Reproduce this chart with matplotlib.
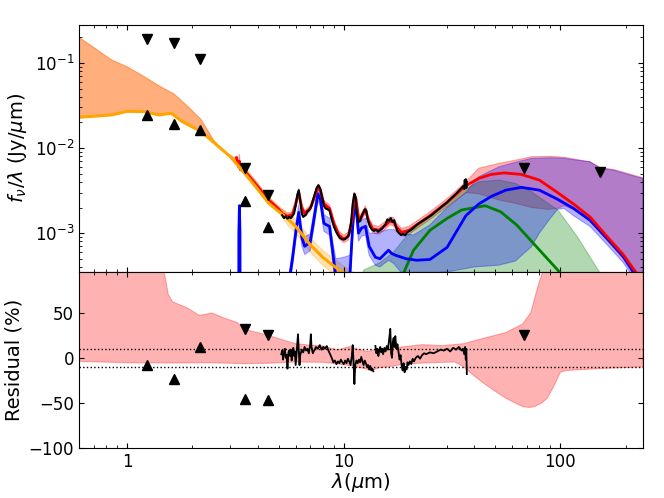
import numpy as np
import matplotlib
matplotlib.use('Agg')
import matplotlib.pyplot as plt

# ---- data (fluxes in 1e-3 Jy/um) ----
# photometry: lower (^) and upper (v) points
phot_up_wave = [1.235, 1.65, 2.16, 3.5, 4.45]
phot_up_flux = [24.5, 19.0, 16.3, 2.4, 1.19]
phot_dn_wave = [1.235, 1.65, 2.16, 3.5, 4.45, 68.0, 152.0]
phot_dn_flux = [190.0, 173.0, 111.0, 5.8, 2.8, 5.9, 5.26]

# stellar model (orange)
star_wave = [0.6, 0.85, 1.0, 1.2, 1.4, 1.6, 1.8, 2.2, 2.6, 3.0, 3.5, 4.0, 4.5,
             5.0, 5.5, 6.0, 7.0, 8.0, 9.0, 10.0, 11.0, 12.0]
star_flux = [23.0, 24.5, 27.0, 26.8, 24.5, 25.6, 20.4, 15.6, 10.8, 7.9, 5.0, 3.3,
             2.25, 1.8, 1.48, 1.2, 0.73, 0.52, 0.41, 0.34, 0.29, 0.25]
star_hi_wave = [0.6, 0.85, 1.0, 1.2, 1.4, 1.65, 1.9, 2.2, 2.5, 2.8, 3.2, 3.5, 4.0,
                4.5, 5.0, 5.5, 6.0, 7.0, 8.0, 9.0, 10.0, 11.0, 12.0]
star_hi = [200.0, 108.0, 90.0, 69.0, 54.0, 43.0, 31.0, 21.5, 12.5, 9.0, 7.4, 5.8,
           3.85, 2.65, 2.05, 1.75, 1.45, 0.88, 0.63, 0.5, 0.41, 0.35, 0.3]
star_lo_wave = [5.0, 5.5, 6.0, 7.0, 8.0, 9.0, 10.0, 11.0, 12.0]
star_lo = [1.8, 1.25, 1.0, 0.6, 0.42, 0.33, 0.27, 0.23, 0.2]

# total model (red)
tot_wave = [3.2, 3.27, 3.30, 3.33, 3.5, 4.0, 4.5, 5.0, 5.2, 5.5, 5.8, 6.0, 6.2,
            6.4, 6.6, 7.0, 7.3, 7.6, 7.8, 8.1, 8.6, 9.0, 9.5, 10.0, 10.5, 10.9,
            11.2, 11.4, 11.7, 12.0, 12.6, 13.0, 13.6, 14.5, 15.5, 16.3, 17.0,
            17.5, 18.5, 20.0, 22.0, 25.0, 30.0, 36.6, 42.0, 48.0, 55.0, 66.0,
            80.0, 97.0, 115.0, 137.0, 165.0, 195.0, 230.0]
tot_flux = [7.7, 6.0, 7.0, 5.6, 5.3, 3.55, 2.45, 1.92, 1.70, 1.58, 1.65, 2.2,
            3.0, 2.0, 1.7, 1.95, 2.6, 3.5, 3.2, 2.2, 1.95, 1.3, 0.95, 0.85, 0.92,
            1.4, 2.8, 2.5, 1.5, 1.5, 1.9, 1.4, 1.12, 1.08, 1.22, 1.38, 1.35, 1.18,
            1.02, 1.08, 1.28, 1.6, 2.3, 3.6, 4.4, 4.9, 5.1, 4.9, 4.2, 3.0, 2.2,
            1.55, 0.9, 0.56, 0.31]
tot_hi_wave = [0.6, 0.85, 1.0, 1.2, 1.4, 1.65, 1.9, 2.2, 2.5, 2.8, 3.2, 3.27,
               3.30, 3.33, 3.5, 4.0, 4.5, 5.0, 5.5, 5.8, 6.0, 6.2, 6.4, 6.6, 7.0,
               7.3, 7.6, 7.8, 8.1, 8.6, 9.0, 9.5, 10.0, 10.5, 10.9, 11.2, 11.4,
               11.7, 12.0, 12.6, 13.0, 13.6, 14.5, 15.5, 16.3, 17.0, 17.5, 18.5,
               20.0, 22.0, 25.0, 30.0, 36.6, 42.0, 52.0, 62.0, 73.5, 90.0, 104.0,
               120.0, 137.0, 153.0, 176.0, 224.0, 240.0]
tot_hi = [200.0, 108.0, 90.0, 69.0, 54.0, 43.0, 31.0, 21.5, 12.5, 9.0, 7.4, 7.0,
          8.5, 6.6, 5.8, 3.85, 2.65, 2.05, 1.70, 1.80, 2.45, 3.35, 2.2, 1.85, 2.1,
          2.85, 3.8, 3.5, 2.4, 2.15, 1.45, 1.05, 0.95, 1.02, 1.55, 3.05, 2.75,
          1.65, 1.65, 2.1, 1.55, 1.25, 1.2, 1.36, 1.55, 1.52, 1.32, 1.14, 1.2,
          1.42, 1.78, 2.55, 4.0, 5.8, 6.6, 7.2, 7.9, 8.0, 7.8, 7.3, 6.9, 5.9, 5.6,
          4.7, 4.5]
tot_lo_wave = [0.6, 0.85, 1.0, 1.2, 1.4, 1.6, 1.8, 2.2, 2.6, 3.0, 3.5, 4.0, 4.5,
               5.0, 5.5, 5.8, 6.0, 6.2, 6.4, 6.6, 7.0, 7.3, 7.6, 7.8, 8.1, 8.6,
               9.0, 9.5, 10.0, 10.5, 10.9, 11.2, 11.4, 11.7, 12.0, 12.6, 13.0,
               13.6, 14.5, 15.5, 16.3, 17.0, 17.5, 18.5, 20.0, 22.0, 25.0, 30.0,
               36.6, 42.0, 52.0, 62.0, 73.5, 87.6, 97.0, 104.0, 115.0, 137.0,
               165.0, 195.0, 230.0, 240.0]
tot_lo = [23.0, 24.5, 27.0, 26.8, 24.5, 25.6, 20.4, 15.6, 10.8, 7.9, 5.0, 3.3,
          2.25, 1.8, 1.45, 1.5, 2.0, 2.7, 1.8, 1.55, 1.8, 2.35, 3.2, 2.9, 2.0,
          1.78, 1.17, 0.86, 0.77, 0.83, 1.26, 2.55, 2.28, 1.36, 1.36, 1.72, 1.27,
          1.01, 0.97, 1.1, 1.25, 1.22, 1.06, 0.92, 0.97, 1.15, 1.44, 2.05, 3.0,
          2.9, 2.45, 2.24, 2.0, 1.9, 1.95, 2.1, 1.9, 1.38, 0.82, 0.5, 0.26, 0.22]

# dust / PAH model (blue)
dust_wave = [3.0, 3.26, 3.28, 3.30, 3.32, 3.34, 5.3, 5.5, 5.8, 6.0, 6.2, 6.4,
             6.6, 7.0, 7.3, 7.6, 7.8, 8.1, 8.6, 8.9, 9.2, 10.0, 10.7, 11.0, 11.25,
             11.45, 11.7, 12.1, 12.6, 13.1, 14.0, 14.7, 16.1, 16.6, 17.3, 19.4,
             21.7, 25.0, 30.0, 36.6, 42.0, 48.0, 56.0, 66.0, 80.0, 97.0, 115.0,
             137.0, 165.0, 195.0, 230.0]
dust_flux = [0.00001, 0.00001, 1.0, 2.1, 1.0, 0.00001, 0.00001, 0.2, 0.5, 1.0,
             1.75, 0.9, 0.7, 0.78, 1.5, 2.9, 2.5, 1.3, 1.2, 0.6, 0.3, 0.15, 0.35,
             1.2, 2.3, 1.8, 1.0, 1.15, 1.2, 0.7, 0.52, 0.5, 0.63, 0.58, 0.55, 0.5,
             0.48, 0.49, 0.68, 1.6, 2.2, 2.7, 3.2, 3.45, 3.2, 2.5, 1.95, 1.42,
             0.85, 0.53, 0.28]
dust_hi_wave = [5.4, 5.5, 5.8, 6.0, 6.2, 6.4, 6.6, 7.0, 7.3, 7.6, 7.8, 8.1, 8.6,
                8.9, 9.2, 10.0, 10.7, 11.0, 11.25, 11.45, 11.7, 12.1, 12.6, 13.1,
                14.0, 15.0, 16.0, 17.0, 18.5, 21.0, 25.0, 30.0, 36.6, 42.0, 52.0,
                62.0, 73.5, 90.0, 104.0, 120.0, 137.0, 153.0, 176.0, 224.0, 240.0]
dust_hi = [0.01, 0.25, 0.62, 1.25, 2.15, 1.12, 0.9, 0.98, 1.85, 3.5, 3.05, 1.65,
           1.5, 0.8, 0.5, 0.52, 0.55, 1.5, 2.8, 2.2, 1.3, 1.42, 1.5, 1.0, 1.0,
           1.05, 1.1, 1.1, 1.0, 0.95, 1.25, 2.0, 3.0, 4.6, 6.0, 6.8, 7.55, 7.7,
           7.6, 7.2, 6.9, 5.76, 5.5, 4.6, 4.4]
dust_lo_wave = [5.4, 5.5, 5.8, 6.0, 6.2, 6.4, 6.6, 7.0, 7.3, 7.6, 7.8, 8.1, 8.6,
                8.9, 9.2, 10.0, 10.7, 11.0, 11.25, 11.45, 11.7, 12.1, 12.6, 13.1,
                14.0, 14.7, 16.1, 17.0, 18.5, 21.0, 30.0, 40.0, 52.0, 62.0, 68.0,
                73.5, 80.0, 90.0, 97.0, 104.0, 115.0, 137.0, 165.0, 195.0, 230.0,
                240.0]
dust_lo = [0.005, 0.15, 0.4, 0.8, 1.45, 0.72, 0.56, 0.62, 1.2, 2.4, 2.05, 1.05,
           0.95, 0.45, 0.2, 0.1, 0.25, 0.95, 1.9, 1.45, 0.8, 0.92, 0.95, 0.55,
           0.42, 0.40, 0.48, 0.44, 0.34, 0.33, 0.35, 0.40, 0.42, 0.47, 0.58, 0.69,
           1.0, 1.5, 1.9, 1.95, 1.6, 1.2, 0.72, 0.45, 0.24, 0.2]

# warm dust (green)
warm_wave = [18.9, 21.0, 25.0, 30.0, 35.0, 45.0, 53.0, 63.0, 75.0, 100.0, 110.0]
warm_flux = [0.34, 0.63, 1.08, 1.49, 1.87, 2.1, 1.78, 1.24, 0.76, 0.34, 0.25]
warm_hi_wave = [12.0, 12.4, 14.7, 17.0, 19.0, 21.0, 25.0, 30.0, 36.6, 42.0, 52.0,
                62.0, 73.5, 87.6, 97.4, 120.0, 153.0, 170.0]
warm_hi = [0.30, 0.37, 0.45, 0.60, 0.85, 1.1, 1.55, 2.2, 3.3, 4.0, 4.2, 3.84,
           3.06, 2.24, 1.87, 0.9, 0.335, 0.25]
warm_lo_wave = [12.0, 170.0]
warm_lo = [0.1, 0.1]

# IRS spectrum (black)
spec_wave = [5.20, 5.30, 5.40, 5.50, 5.60, 5.70, 5.80, 5.90, 6.00, 6.10, 6.20,
             6.30, 6.40, 6.50, 6.60, 6.70, 6.80, 6.90, 7.00, 7.10, 7.30, 7.50,
             7.65, 7.80, 7.95, 8.10, 8.25, 8.45, 8.60, 8.80, 9.00, 9.20, 9.40,
             9.60, 9.80, 10.0, 10.2, 10.4, 10.6, 10.8, 11.0, 11.2, 11.35, 11.5,
             11.7, 11.9, 12.1, 12.3, 12.5, 12.7, 12.9, 13.2, 13.5, 13.8, 14.1,
             14.4, 14.7, 15.0, 15.3, 15.6, 15.9, 16.2, 16.5, 16.8, 17.1, 17.4,
             17.7, 18.0, 18.4, 18.8, 19.2, 19.6, 20.0, 20.5, 21.0, 21.5, 22.0,
             23.0, 24.0, 25.0, 26.0, 27.0, 28.0, 29.0, 30.0, 31.0, 32.0, 33.0,
             34.0, 35.0, 35.5, 36.0, 36.2, 36.4, 36.6, 36.8, 37.0]
spec_flux = [1.62, 1.50, 1.58, 1.48, 1.55, 1.50, 1.60, 1.70, 2.10, 2.80, 3.20,
             2.40, 1.70, 1.55, 1.60, 1.65, 1.80, 1.85, 1.95, 2.10, 2.70, 3.40,
             3.65, 3.30, 2.60, 2.10, 1.95, 1.90, 1.85, 1.45, 1.20, 1.05, 0.95,
             0.88, 0.85, 0.84, 0.86, 0.90, 0.98, 1.30, 2.20, 2.90, 2.60, 1.70,
             1.35, 1.40, 1.60, 1.75, 1.90, 1.85, 1.45, 1.20, 1.10, 1.06, 1.10,
             1.04, 1.08, 1.12, 1.20, 1.28, 1.45, 1.40, 1.50, 1.35, 1.42, 1.20,
             1.05, 1.00, 0.95, 0.98, 0.94, 1.02, 1.05, 1.10, 1.15, 1.22, 1.28,
             1.38, 1.48, 1.58, 1.70, 1.85, 2.00, 2.15, 2.30, 2.50, 2.70, 2.90,
             3.15, 3.40, 3.55, 3.30, 4.20, 3.50, 4.30, 3.40, 4.00]

# residuals (%)
res_up_wave = [0.6, 1.4, 1.47, 1.55, 1.62, 1.9, 2.15, 2.3, 2.46, 2.8, 3.22, 3.52,
               4.0, 4.6, 5.2, 6.0, 7.0, 7.9, 8.6, 9.4, 10.7, 11.5, 12.8, 14.0,
               16.0, 18.3, 23.0, 28.6, 35.8, 44.8, 56.0, 67.0, 73.0, 79.0, 84.0,
               90.0, 240.0]
res_up = [150, 150, 100, 70, 62, 55, 47, 48, 49.6, 44, 39, 31, 28, 24, 20, 15.6,
          14, 13.4, 11, 8.8, 12.6, 10, 6.9, 9, 11, 11.8, 14.5, 13.4, 15.6, 22,
          27.9, 37.4, 50, 80, 100, 150, 150]
res_lo_wave = [0.6, 1.0, 1.5, 2.5, 3.5, 4.5, 6.0, 8.0, 9.5, 11.0, 12.5, 13.5,
               14.5, 16.0, 18.0, 20.0, 25.0, 32.6, 35.8, 40.0, 44.8, 50.0, 56.0,
               62.0, 67.0, 72.0, 76.0, 82.0, 87.0, 93.0, 100.0, 107.0, 150.0,
               240.0]
res_lo = [-4, -5.5, -5.7, -5.5, -6.5, -6, -4.6, -5, -7, -9, -12, -14, -11, -10,
          -8, -6.5, -5.5, -4.6, -10, -20, -29, -37, -44.7, -50, -54, -55, -54,
          -50, -44.7, -32, -16, -14, -12, -10]
res_phot_up_wave = [1.235, 1.65, 2.16, 3.5, 4.45]
res_phot_up = [-8.4, -23.7, 11.8, -45.4, -46.6]
res_phot_dn_wave = [3.5, 4.45, 68.0]
res_phot_dn = [31.7, 24.8, 25.6]

res_spec_wave = [5.15, 5.2, 5.25, 5.3, 5.35, 5.4, 5.45, 5.5, 5.55, 5.6, 5.65, 5.7,
                 5.75, 5.8, 5.85, 5.9, 5.95, 6.0, 6.05, 6.1, 6.15, 6.2, 6.25, 6.3,
                 6.4, 6.5, 6.6, 6.7, 6.8, 6.9, 7.0, 7.05, 7.1, 7.2, 7.3, 7.45, 7.6,
                 7.75, 7.9, 8.05, 8.2, 8.35, 8.5, 8.65, 8.8, 8.95, 9.1, 9.25, 9.4,
                 9.55, 9.7, 9.85, 10.0, 10.15, 10.3, 10.45, 10.6, 10.75, 10.9,
                 11.0, 11.1, 11.2, 11.3, 11.45, 11.6, 11.75, 11.9, 12.05, 12.2,
                 12.35, 12.5, 12.65, 12.8, 12.95, 13.1, 13.25, 13.4, 13.55, 13.7,
                 13.85, 14.0, 14.15, 14.3, 14.45, 14.6, 14.75, 14.9, 15.05, 15.2,
                 15.4, 15.6, 15.8, 16.0, 16.2, 16.4, 16.55, 16.7, 16.85, 17.0,
                 17.15, 17.3, 17.5, 17.7, 17.9, 18.1, 18.3, 18.5, 18.7, 18.9, 19.1,
                 19.3, 19.5, 19.7, 19.9, 20.2, 20.5, 20.8, 21.1, 21.5, 22.0, 22.5,
                 23.0, 23.5, 24.0, 25.0, 26.0, 27.0, 28.0, 29.0, 30.0, 31.0, 32.0,
                 33.0, 34.0, 35.0, 35.5, 36.0, 36.3, 36.6, 36.8, 37.0]
res_spec = [4, 8, -2, 6, 10, 0, 3, -12, 5, 8, 2, 9, -3, 6, 11, 2, 7, -8, 4, 15,
            26, 10, -8, 3, 9, 6, 12, 8, 10, 5, 14, 26, 12, 5, 8, 12, 10, 14, 9,
            12, 10, 13, 8, 4, 0, -5, -3, -7, -4, -6, -2, -5, -7, -3, -6, -1, -4,
            -8, 2, 14, -5, -29, -8, -3, -6, -2, -5, 1, -4, -8, -3, -6, -10, -8,
            -13, -9, -14, -12, -15, np.nan, 13, 5, 10, 2, 8, 12, 6, 10, 4, 11, 7,
            13, 9, 20, 32, 5, 0, 18, 22, 12, 24, 10, 15, 6, -2, 3, -8, -14, -6,
            -16, -10, -13, -5, -8, -4, -7, -1, -4, 0, 2, -1, 3, 5, 4, 6, 5, 7, 9,
            8, 10, 7, 11, 9, 12, 8, 10, 4, 12, -2, 10, -18]


def mjy(v):
    return np.array(v) * 1e-3


def band(ax, xu, yu, xl, yl, color, alpha, **kw):
    xs = list(xu) + list(xl)[::-1]
    ys = list(yu) + list(yl)[::-1]
    ax.fill(xs, ys, color=color, alpha=alpha, lw=0.8, **kw)


plt.rcParams['xtick.direction'] = 'in'
plt.rcParams['ytick.direction'] = 'in'
plt.rcParams['xtick.top'] = True
plt.rcParams['ytick.right'] = True

fig = plt.figure(figsize=(6.64, 4.98), dpi=100)
ax1 = fig.add_axes([0.119, 0.454, 0.849, 0.496])
ax2 = fig.add_axes([0.119, 0.100, 0.849, 0.354], sharex=ax1)

# top panel
band(ax1, tot_hi_wave, mjy(tot_hi), tot_lo_wave, mjy(tot_lo), 'red', 0.3)
band(ax1, star_hi_wave, mjy(star_hi), star_wave[:13] + star_lo_wave,
     list(mjy(star_flux[:13])) + list(mjy(star_lo)), 'orange', 0.3)
band(ax1, warm_hi_wave, mjy(warm_hi), warm_lo_wave, mjy(warm_lo), 'green', 0.3)
band(ax1, dust_hi_wave, mjy(dust_hi), dust_lo_wave, mjy(dust_lo), 'blue', 0.3)

ax1.plot(warm_wave, mjy(warm_flux), color='green', lw=2)
ax1.plot(dust_wave, mjy(dust_flux), color='blue', lw=2)
ax1.plot(tot_wave, mjy(tot_flux), color='red', lw=2)
ax1.plot(star_wave, mjy(star_flux), color='orange', lw=2.2)
ax1.plot(spec_wave, mjy(spec_flux), color='black', lw=1.5)
ax1.plot(phot_up_wave, mjy(phot_up_flux), '^', color='black', ms=7)
ax1.plot(phot_dn_wave, mjy(phot_dn_flux), 'v', color='black', ms=7)

ax1.set_xscale('log')
ax1.set_yscale('log')
ax1.set_xlim(0.6, 240)
ax1.set_ylim(3.5e-4, 0.28)
ax1.set_ylabel(r'$f_\nu/\lambda$ (Jy/$\mu$m)', fontsize=14)
ax1.tick_params(labelbottom=False, labelsize=12)

# bottom panel
band(ax2, res_up_wave, res_up, res_lo_wave, res_lo, 'red', 0.3)
ax2.axhline(10, color='black', ls=':', lw=1)
ax2.axhline(-10, color='black', ls=':', lw=1)
ax2.plot(res_spec_wave, res_spec, color='black', lw=1.3)
ax2.plot(res_phot_up_wave, res_phot_up, '^', color='black', ms=7)
ax2.plot(res_phot_dn_wave, res_phot_dn, 'v', color='black', ms=7)
ax2.set_ylim(-100, 95)
ax2.set_yticks([-100, -50, 0, 50])
ax2.set_xticks([1, 10, 100])
ax2.set_xticklabels(['1', '10', '100'])
ax2.set_ylabel('Residual (%)', fontsize=14)
ax2.set_xlabel(r'$\lambda(\mu$m$)$', fontsize=14, labelpad=0)
ax2.tick_params(labelsize=12)

fig.savefig('out.png', dpi=100)
